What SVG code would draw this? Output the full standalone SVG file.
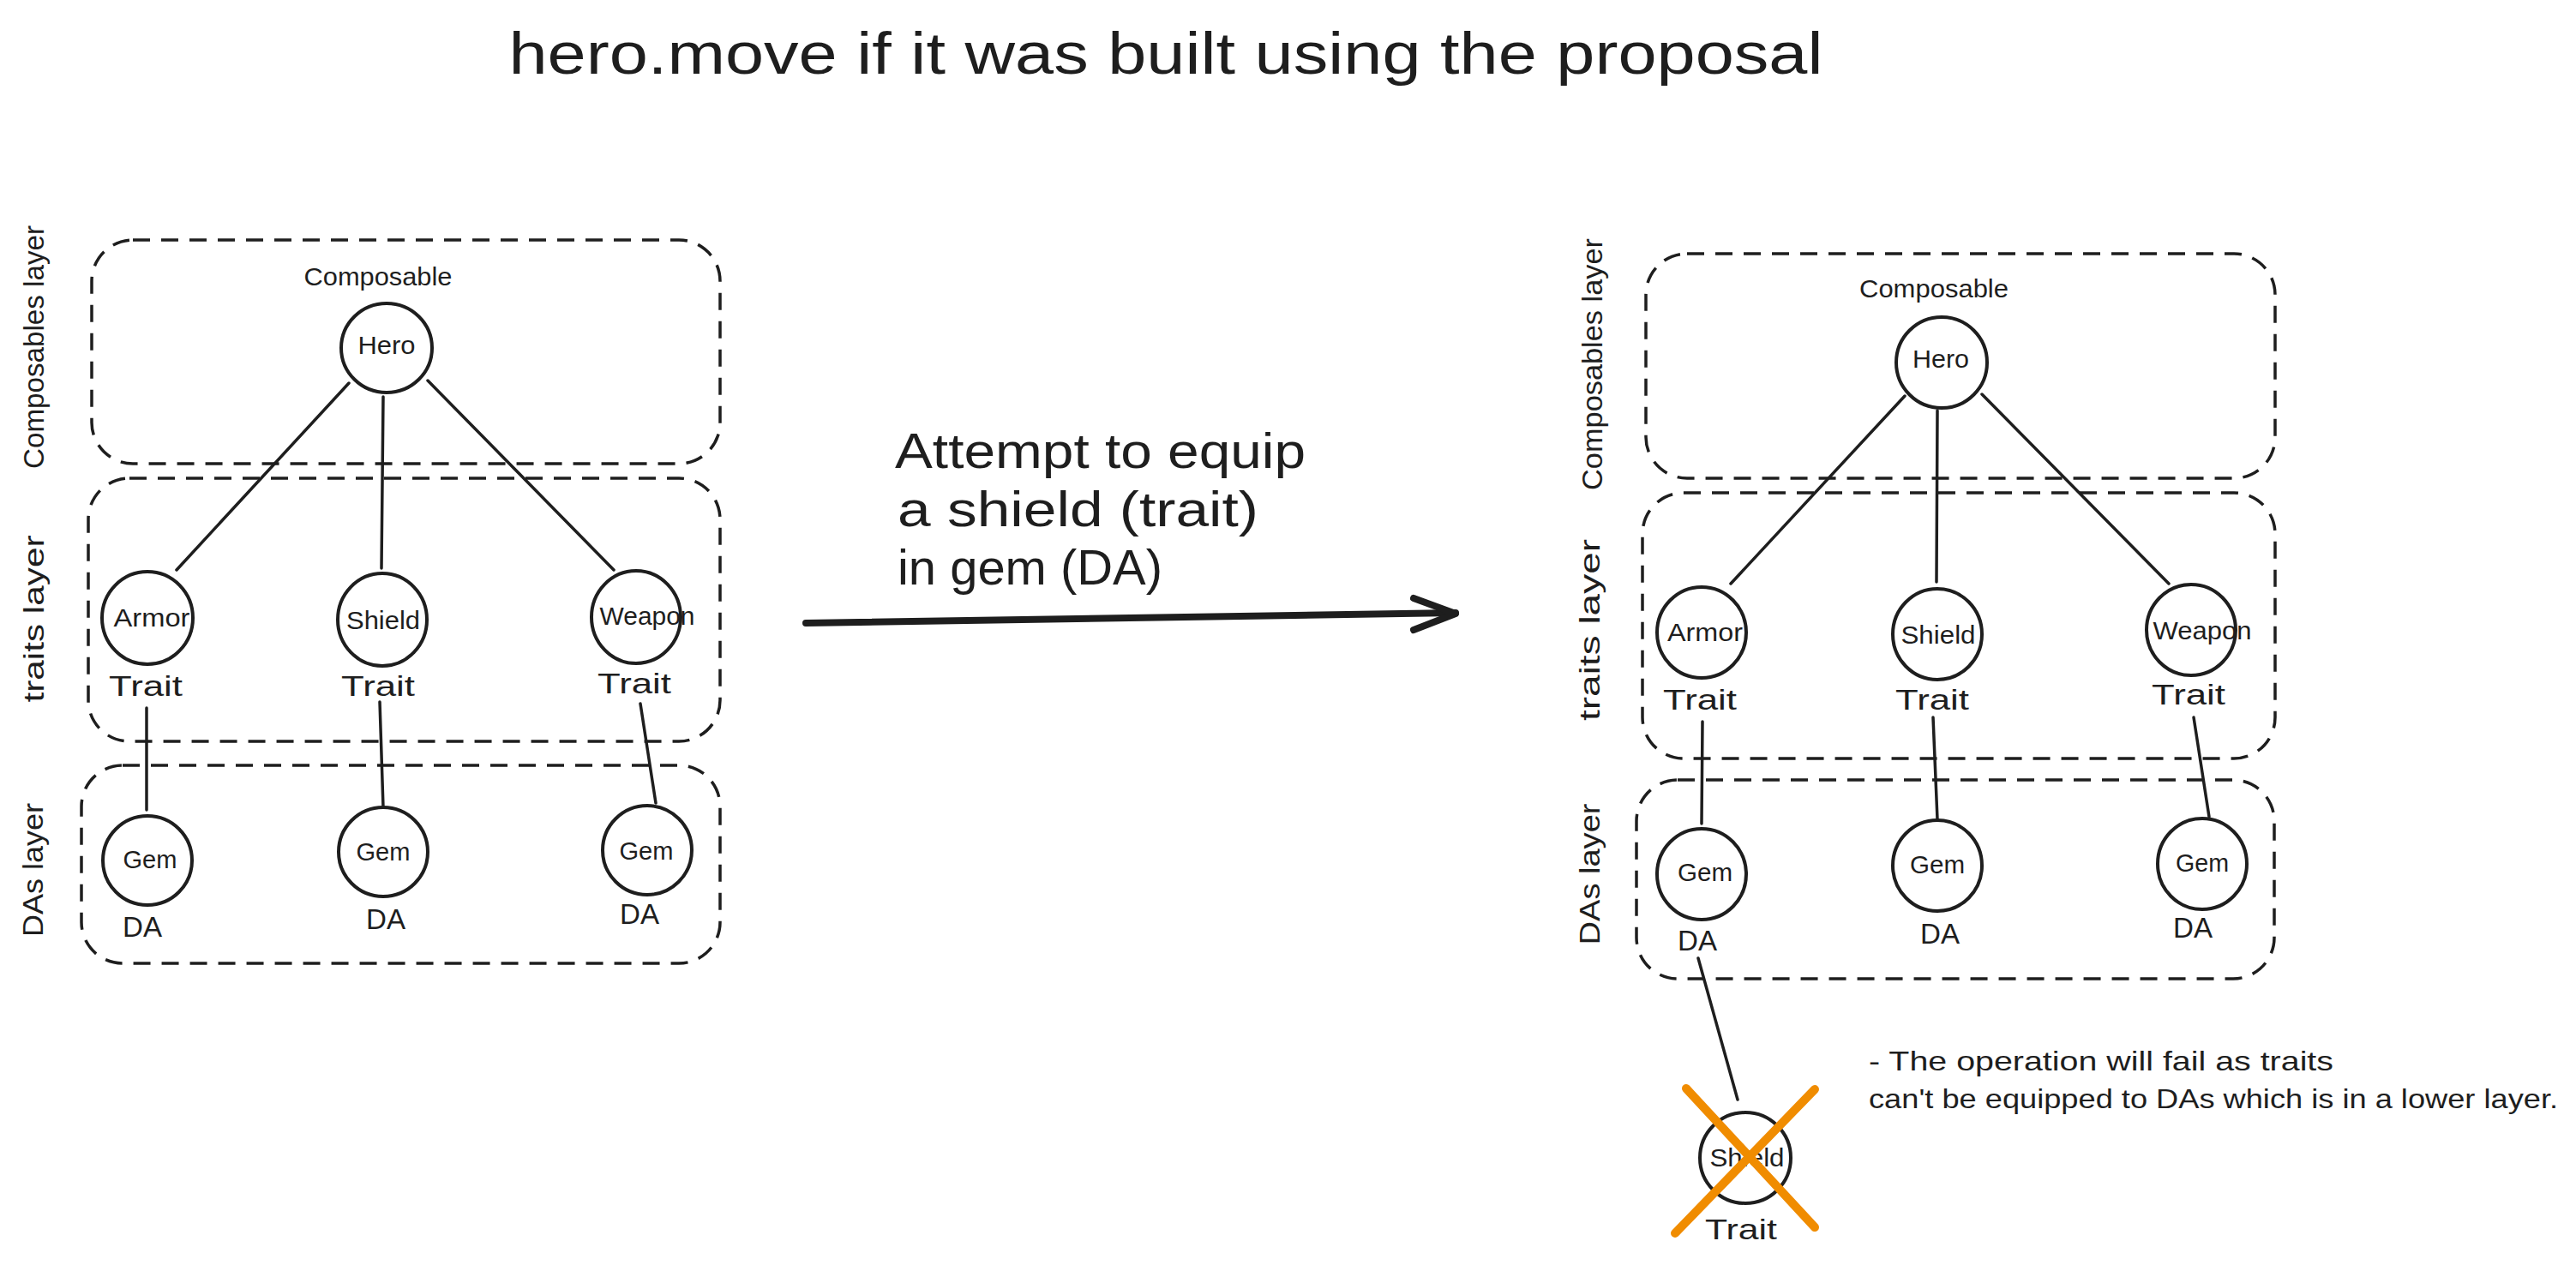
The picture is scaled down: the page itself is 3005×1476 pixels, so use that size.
<svg xmlns="http://www.w3.org/2000/svg" width="3005" height="1476" viewBox="0 0 3005 1476">
<style>
text { font-family: "Liberation Sans", Arial, sans-serif; fill: #1e1e1e; }
.layer { fill: none; stroke: #1e1e1e; stroke-width: 3.5; stroke-dasharray: 20 13; }
.node { fill: none; stroke: #1e1e1e; stroke-width: 4; }
.edge { stroke: #1e1e1e; stroke-width: 3.5; fill: none; stroke-linecap: round; }
.lbl { font-size: 30px; text-anchor: middle; }
.sub { font-size: 33px; text-anchor: middle; }
.cap { font-size: 29px; text-anchor: middle; }
.side { font-size: 34px; text-anchor: middle; }
.big { font-size: 58px; }
.note { font-size: 32px; }
.cross { stroke: #f08c00; stroke-width: 10; stroke-linecap: round; fill: none; }
</style>
<rect width="3005" height="1476" fill="#ffffff"/>

<g id="title">
<text x="1360" y="86" font-size="68" text-anchor="middle" textLength="1533" lengthAdjust="spacingAndGlyphs">hero.move if it was built using the proposal</text>
</g>

<g id="left-layers">
<rect id="l-composables-layer" class="layer" x="107" y="280" width="733" height="261" rx="48"/>
<rect id="l-traits-layer" class="layer" x="103" y="558" width="737" height="307" rx="48"/>
<rect id="l-das-layer" class="layer" x="95" y="893" width="745" height="231" rx="48"/>
<text class="side" transform="translate(51,405) rotate(-90)" textLength="284" lengthAdjust="spacingAndGlyphs">Composables layer</text>
<text class="side" transform="translate(51,722) rotate(-90)" textLength="195" lengthAdjust="spacingAndGlyphs">traits layer</text>
<text class="side" transform="translate(50,1015) rotate(-90)" textLength="156" lengthAdjust="spacingAndGlyphs">DAs layer</text>
<text class="cap" x="441" y="333" textLength="173" lengthAdjust="spacingAndGlyphs">Composable</text>
</g>

<g id="right-layers">
<rect id="r-composables-layer" class="layer" x="1920" y="296" width="734" height="262" rx="48"/>
<rect id="r-traits-layer" class="layer" x="1916" y="575" width="738" height="310" rx="48"/>
<rect id="r-das-layer" class="layer" x="1909" y="910" width="744" height="232" rx="48"/>
<text class="side" transform="translate(1869,425) rotate(-90)" textLength="294" lengthAdjust="spacingAndGlyphs">Composables layer</text>
<text class="side" transform="translate(1866,735) rotate(-90)" textLength="212" lengthAdjust="spacingAndGlyphs">traits layer</text>
<text class="side" transform="translate(1866,1020) rotate(-90)" textLength="165" lengthAdjust="spacingAndGlyphs">DAs layer</text>
<text class="cap" x="2256" y="347" textLength="174" lengthAdjust="spacingAndGlyphs">Composable</text>
</g>

<g id="connectors">
<line class="edge" x1="407" y1="447" x2="206" y2="665"/>
<line class="edge" x1="447" y1="463" x2="445" y2="663"/>
<line class="edge" x1="499" y1="444" x2="716" y2="665"/>
<line class="edge" x1="171" y1="826" x2="171" y2="945"/>
<line class="edge" x1="443" y1="819" x2="447" y2="942"/>
<line class="edge" x1="747" y1="821" x2="765" y2="937"/>
<line class="edge" x1="2222" y1="462" x2="2019" y2="681"/>
<line class="edge" x1="2260" y1="479" x2="2259" y2="679"/>
<line class="edge" x1="2312" y1="460" x2="2530" y2="681"/>
<line class="edge" x1="1986" y1="842" x2="1985" y2="961"/>
<line class="edge" x1="2255" y1="837" x2="2260" y2="956"/>
<line class="edge" x1="2559" y1="837" x2="2577" y2="953"/>
<line class="edge" x1="1981" y1="1118" x2="2027" y2="1283"/>
<path d="M940 727 L1698 715" stroke="#1e1e1e" stroke-width="8" stroke-linecap="round" fill="none"/>
<polyline points="1649,698 1698,716 1649,735" stroke="#1e1e1e" stroke-width="8" stroke-linecap="round" stroke-linejoin="round" fill="none"/>
</g>

<g id="l-hero"><ellipse class="node" cx="451" cy="406" rx="53" ry="52"/><text class="lbl" x="451" y="413" textLength="67" lengthAdjust="spacingAndGlyphs">Hero</text></g>
<g id="l-armor"><ellipse class="node" cx="172" cy="721" rx="53" ry="54"/><text class="lbl" x="177" y="731" textLength="89" lengthAdjust="spacingAndGlyphs">Armor</text><text class="sub" x="170" y="812" textLength="86" lengthAdjust="spacingAndGlyphs">Trait</text></g>
<g id="l-shield"><ellipse class="node" cx="446" cy="723" rx="52" ry="54"/><text class="lbl" x="447" y="734" textLength="86" lengthAdjust="spacingAndGlyphs">Shield</text><text class="sub" x="441" y="812" textLength="86" lengthAdjust="spacingAndGlyphs">Trait</text></g>
<g id="l-weapon"><ellipse class="node" cx="742" cy="720" rx="52" ry="54"/><text class="lbl" x="755" y="729" textLength="111" lengthAdjust="spacingAndGlyphs">Weapon</text><text class="sub" x="740" y="809" textLength="86" lengthAdjust="spacingAndGlyphs">Trait</text></g>
<g id="l-gem1"><ellipse class="node" cx="172" cy="1004" rx="52" ry="52"/><text class="lbl" x="175" y="1013" textLength="63" lengthAdjust="spacingAndGlyphs">Gem</text><text class="sub" x="166" y="1093" textLength="46" lengthAdjust="spacingAndGlyphs">DA</text></g>
<g id="l-gem2"><ellipse class="node" cx="447" cy="994" rx="52" ry="52"/><text class="lbl" x="447" y="1004" textLength="63" lengthAdjust="spacingAndGlyphs">Gem</text><text class="sub" x="450" y="1084" textLength="46" lengthAdjust="spacingAndGlyphs">DA</text></g>
<g id="l-gem3"><ellipse class="node" cx="755" cy="992" rx="52" ry="52"/><text class="lbl" x="754" y="1003" textLength="63" lengthAdjust="spacingAndGlyphs">Gem</text><text class="sub" x="746" y="1078" textLength="46" lengthAdjust="spacingAndGlyphs">DA</text></g>

<g id="r-hero"><ellipse class="node" cx="2265" cy="423" rx="53" ry="53"/><text class="lbl" x="2264" y="429" textLength="66" lengthAdjust="spacingAndGlyphs">Hero</text></g>
<g id="r-armor"><ellipse class="node" cx="1985" cy="738" rx="52" ry="53"/><text class="lbl" x="1989" y="748" textLength="88" lengthAdjust="spacingAndGlyphs">Armor</text><text class="sub" x="1983" y="828" textLength="86" lengthAdjust="spacingAndGlyphs">Trait</text></g>
<g id="r-shield"><ellipse class="node" cx="2260" cy="740" rx="52" ry="53"/><text class="lbl" x="2261" y="751" textLength="87" lengthAdjust="spacingAndGlyphs">Shield</text><text class="sub" x="2254" y="828" textLength="86" lengthAdjust="spacingAndGlyphs">Trait</text></g>
<g id="r-weapon"><ellipse class="node" cx="2556" cy="735" rx="52" ry="53"/><text class="lbl" x="2569" y="746" textLength="115" lengthAdjust="spacingAndGlyphs">Weapon</text><text class="sub" x="2553" y="822" textLength="86" lengthAdjust="spacingAndGlyphs">Trait</text></g>
<g id="r-gem1"><ellipse class="node" cx="1985" cy="1020" rx="52" ry="53"/><text class="lbl" x="1989" y="1028" textLength="64" lengthAdjust="spacingAndGlyphs">Gem</text><text class="sub" x="1980" y="1109" textLength="46" lengthAdjust="spacingAndGlyphs">DA</text></g>
<g id="r-gem2"><ellipse class="node" cx="2260" cy="1010" rx="52" ry="53"/><text class="lbl" x="2260" y="1019" textLength="64" lengthAdjust="spacingAndGlyphs">Gem</text><text class="sub" x="2263" y="1101" textLength="46" lengthAdjust="spacingAndGlyphs">DA</text></g>
<g id="r-gem3"><ellipse class="node" cx="2569" cy="1008" rx="52" ry="53"/><text class="lbl" x="2569" y="1017" textLength="62" lengthAdjust="spacingAndGlyphs">Gem</text><text class="sub" x="2558" y="1094" textLength="46" lengthAdjust="spacingAndGlyphs">DA</text></g>

<g id="r-shield-fail"><ellipse class="node" cx="2036" cy="1351" rx="53" ry="53"/><text class="lbl" x="2038" y="1361" textLength="87" lengthAdjust="spacingAndGlyphs">Shield</text><text class="sub" x="2031" y="1446" textLength="84" lengthAdjust="spacingAndGlyphs">Trait</text>
<line class="cross" x1="1967" y1="1270" x2="2117" y2="1432"/>
<line class="cross" x1="2117" y1="1271" x2="1954" y2="1439"/>
</g>

<g id="attempt-label">
<text class="big" x="1044" y="546" textLength="479" lengthAdjust="spacingAndGlyphs">Attempt to equip</text>
<text class="big" x="1047" y="614" textLength="421" lengthAdjust="spacingAndGlyphs">a shield (trait)</text>
<text class="big" x="1047" y="682" textLength="309" lengthAdjust="spacingAndGlyphs">in gem (DA)</text>
</g>

<g id="note">
<text class="note" x="2180" y="1249" textLength="542" lengthAdjust="spacingAndGlyphs">- The operation will fail as traits</text>
<text class="note" x="2180" y="1293" textLength="804" lengthAdjust="spacingAndGlyphs">can't be equipped to DAs which is in a lower layer.</text>
</g>
</svg>
